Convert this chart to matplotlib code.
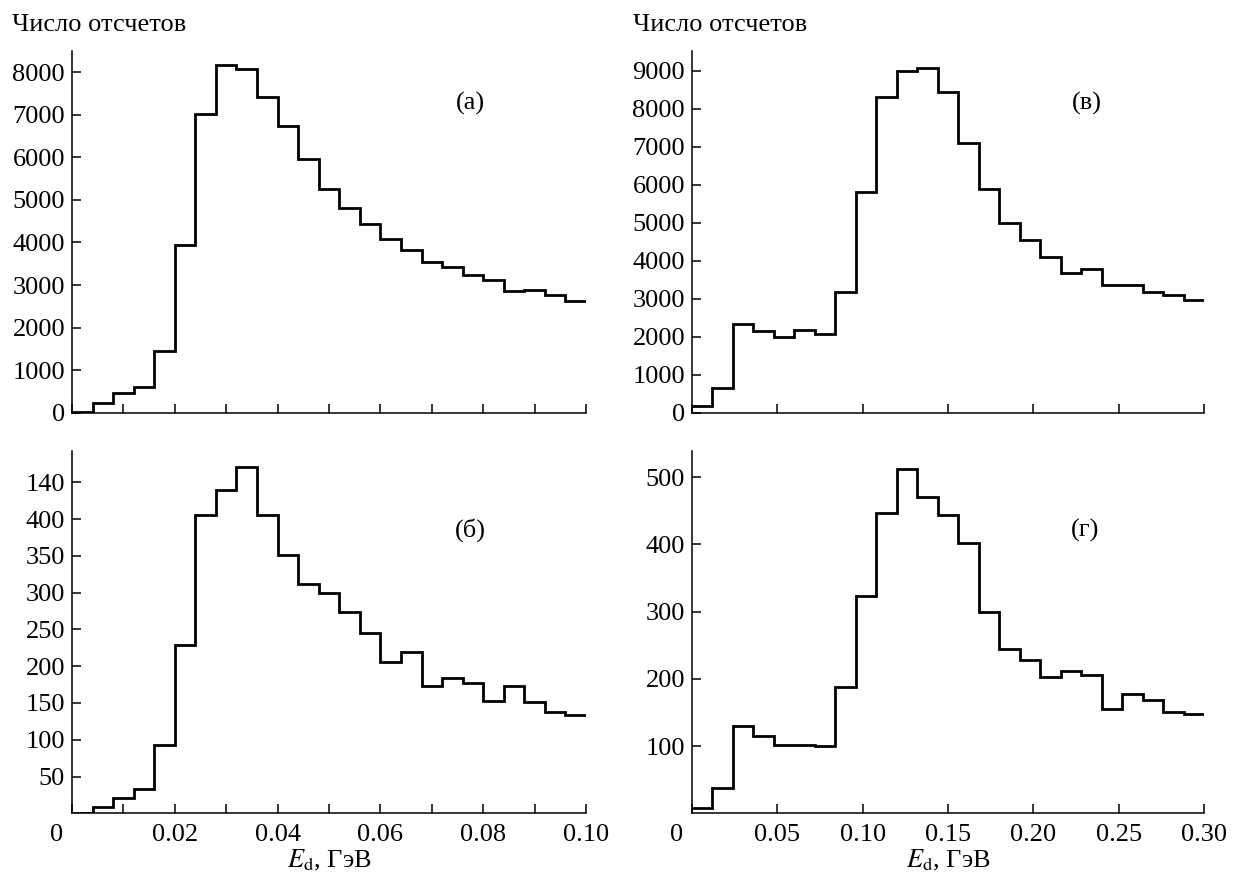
import numpy as np
import matplotlib
matplotlib.use("Agg")
import matplotlib.pyplot as plt
from matplotlib.transforms import ScaledTranslation

plt.rcParams['font.family'] = ['Liberation Serif', 'DejaVu Serif']
plt.rcParams['mathtext.fontset'] = 'stix'

# ---- data (counts per bin) ----
bin_width_left = 0.004
bin_width_right = 0.012

counts_a = [20, 230, 470, 610, 1460, 3930, 7010, 8160, 8070, 7410, 6745, 5970,
            5265, 4810, 4445, 4085, 3835, 3545, 3435, 3225, 3120, 2850, 2895, 2755, 2635]
counts_b = [0, 8, 21, 33, 93, 229, 406, 440, 471, 406, 351, 312, 299, 274, 245,
            206, 220, 173, 184, 177, 153, 173, 151, 138, 133]
counts_v = [175, 650, 2340, 2140, 1980, 2165, 2070, 3190, 5805, 8300, 8990, 9070,
            8445, 7095, 5875, 4990, 4535, 4105, 3665, 3790, 3350, 3350, 3175, 3110, 2965]
counts_g = [8, 38, 130, 115, 102, 101, 100, 188, 323, 447, 512, 471, 444, 402, 299,
            244, 228, 203, 212, 205, 155, 177, 168, 150, 148]

yticks_a = [0, 1000, 2000, 3000, 4000, 5000, 6000, 7000, 8000]
yticks_b = [50, 100, 150, 200, 250, 300, 350, 400, 450]
yticklabels_b = ['50', '100', '150', '200', '250', '300', '350', '400', '140']
yticks_v = [0, 1000, 2000, 3000, 4000, 5000, 6000, 7000, 8000, 9000]
yticks_g = [100, 200, 300, 400, 500]

xticks_left = [0, 0.02, 0.04, 0.06, 0.08, 0.10]
xticklabels_left = ['0', '0.02', '0.04', '0.06', '0.08', '0.10']
xminor_left = [0.01, 0.03, 0.05, 0.07, 0.09]
xticks_right = [0, 0.05, 0.10, 0.15, 0.20, 0.25, 0.30]
xticklabels_right = ['0', '0.05', '0.10', '0.15', '0.20', '0.25', '0.30']

ylabel = 'Число отсчетов'
xlabel = r'$E_\mathrm{d}$, ГэВ'
panel_labels = ['(a)', '(б)', '(в)', '(г)']

FS = 19

fig = plt.figure(figsize=(12.33, 8.72), dpi=100)

W, H = 1233, 872
def pos(l, r, t, b):
    return [l / W, 1 - b / H, (r - l) / W, (b - t) / H]

ax_a = fig.add_axes(pos(72, 586, 51, 412.7))
ax_v = fig.add_axes(pos(692, 1204, 51, 412.7))
ax_b = fig.add_axes(pos(72, 586, 451.5, 813.3))
ax_g = fig.add_axes(pos(692, 1204, 451.5, 813.3))

def style(ax, xmax, ymax):
    ax.set_xlim(0, xmax)
    ax.set_ylim(0, ymax)
    for s in ['top', 'right']:
        ax.spines[s].set_visible(False)
    for s in ['left', 'bottom']:
        ax.spines[s].set_linewidth(1.1)
    ax.tick_params(axis='both', which='both', direction='in', length=6.5,
                   width=1.1, labelsize=FS, pad=5)
    ax.tick_params(axis='x', pad=8)

def draw(ax, counts, bw):
    edges = np.arange(len(counts) + 1) * bw
    ax.stairs(counts, edges, baseline=None, color='black', linewidth=2.0)

# (a)
draw(ax_a, counts_a, bin_width_left)
style(ax_a, 0.10, 8500)
ax_a.set_yticks(yticks_a)
ax_a.set_xticks(xticks_left)
ax_a.set_xticks(xminor_left, minor=True)
ax_a.set_xticklabels([])

# (в)
draw(ax_v, counts_v, bin_width_right)
style(ax_v, 0.30, 9520)
ax_v.set_yticks(yticks_v)
ax_v.set_xticks(xticks_right)
ax_v.set_xticklabels([])

# (б)
draw(ax_b, counts_b, bin_width_left)
style(ax_b, 0.10, 492)
ax_b.set_yticks(yticks_b)
ax_b.set_yticklabels(yticklabels_b)
ax_b.set_xticks(xticks_left)
ax_b.set_xticklabels(xticklabels_left)
ax_b.set_xticks(xminor_left, minor=True)

# (г)
draw(ax_g, counts_g, bin_width_right)
style(ax_g, 0.30, 538)
ax_g.set_yticks(yticks_g)
ax_g.set_xticks(xticks_right)
ax_g.set_xticklabels(xticklabels_right)

# shift the "0" x tick label to the left
for ax in (ax_b, ax_g):
    lbl = ax.get_xticklabels()[0]
    lbl.set_transform(lbl.get_transform() + ScaledTranslation(-15 / 100, 0, fig.dpi_scale_trans))

# y-axis titles
fig.text(12 / W, 1 - 25 / H, ylabel, fontsize=FS, ha='left', va='center')
fig.text(633 / W, 1 - 25 / H, ylabel, fontsize=FS, ha='left', va='center')

# x-axis titles
fig.text(329 / W, 1 - 860 / H, xlabel, fontsize=FS, ha='center', va='center')
fig.text(948 / W, 1 - 860 / H, xlabel, fontsize=FS, ha='center', va='center')

# panel labels
for ax, lab, px, py in [(ax_a, panel_labels[0], 470, 103), (ax_b, panel_labels[1], 470, 530),
                        (ax_v, panel_labels[2], 1087, 103), (ax_g, panel_labels[3], 1085, 530)]:
    fig.text(px / W, 1 - py / H, lab, fontsize=FS, ha='center', va='center')

fig.savefig('out.png', dpi=100)
